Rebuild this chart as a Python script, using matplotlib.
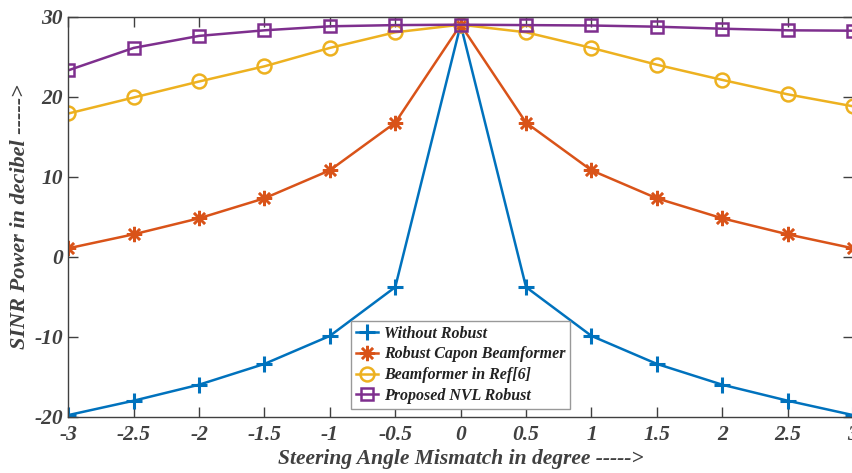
import numpy as np
import matplotlib
matplotlib.use("Agg")
import matplotlib.pyplot as plt

# Steering angle mismatch (degrees) and SINR (dB) of each beamformer
mismatch = [-3, -2.5, -2, -1.5, -1, -0.5, 0, 0.5, 1, 1.5, 2, 2.5, 3]
without_robust = [-19.8, -18, -16, -13.4, -9.9, -3.8, 29, -3.8, -9.9, -13.4, -16, -18, -19.8]
robust_capon = [1.05, 2.8, 4.8, 7.3, 10.8, 16.75, 29, 16.75, 10.8, 7.3, 4.8, 2.8, 1.05]
ref6 = [17.9, 19.9, 21.9, 23.8, 26.1, 28.05, 29, 28.05, 26.1, 24.0, 22.1, 20.3, 18.8]
proposed_nvl = [23.3, 26.1, 27.6, 28.3, 28.8, 28.95, 29, 28.95, 28.9, 28.75, 28.5, 28.3, 28.25]

xtick_vals = [-3, -2.5, -2, -1.5, -1, -0.5, 0, 0.5, 1, 1.5, 2, 2.5, 3]
xtick_labels = ["-3", "-2.5", "-2", "-1.5", "-1", "-0.5", "0", "0.5", "1", "1.5", "2", "2.5", "3"]
ytick_vals = [-20, -10, 0, 10, 20, 30]

plt.rcParams["font.family"] = ["Liberation Serif", "DejaVu Serif"]
plt.rcParams["font.weight"] = "bold"
plt.rcParams["font.style"] = "italic"
plt.rcParams["axes.unicode_minus"] = False

fig = plt.figure(figsize=(8.52, 4.73), dpi=100)
ax = fig.add_axes([68.3 / 852, 1 - 416.7 / 473, (853 - 68.3) / 852, 400 / 473])

lw = 1.8
ax.plot(mismatch, without_robust, color="#0072BD", lw=lw, marker="+",
        ms=11, mew=2.2, label="Without Robust")
ax.plot(mismatch, robust_capon, color="#D95319", lw=lw, marker=(8, 2, 0),
        ms=11, mew=1.8, label="Robust Capon Beamformer")
ax.plot(mismatch, ref6, color="#EDB120", lw=lw, marker="o", ms=10,
        mfc="none", mew=1.8, label="Beamformer in Ref[6]")
ax.plot(mismatch, proposed_nvl, color="#7E2F8E", lw=lw, marker="s", ms=8.5,
        mfc="none", mew=1.8, label="Proposed NVL Robust")

ax.set_xlim(-3, 3)
ax.set_ylim(-20, 30)
ax.set_xticks(xtick_vals)
ax.set_xticklabels(xtick_labels)
ax.set_yticks(ytick_vals)

axis_grey = "#404040"
for side in ax.spines.values():
    side.set_color(axis_grey)
    side.set_linewidth(1.0)
ax.tick_params(direction="in", length=7, width=1.0, colors=axis_grey,
               top=True, right=True, labelsize=15.5, pad=6)
ax.tick_params(axis="y", pad=4)
for lab in ax.get_xticklabels() + ax.get_yticklabels():
    lab.set_fontweight("bold")
    lab.set_fontstyle("italic")

ax.set_xlabel("Steering Angle Mismatch in degree ----->", fontsize=15.5,
              fontweight="bold", fontstyle="italic", color=axis_grey, labelpad=3)
ax.set_ylabel("SINR Power in decibel ----->", fontsize=16,
              fontweight="bold", fontstyle="italic", color=axis_grey)
ax.yaxis.set_label_coords(-0.049, 0.5)

leg = ax.legend(loc="lower center", bbox_to_anchor=(0.5, 0.02), fontsize=11.5,
                handlelength=1.4, handletextpad=0.35, borderpad=0.3,
                labelspacing=0.3, fancybox=False, framealpha=1,
                edgecolor="#999999", borderaxespad=0)
leg.get_frame().set_linewidth(1.0)
for t in leg.get_texts():
    t.set_color("#222222")

fig.savefig("out.png", dpi=100)
